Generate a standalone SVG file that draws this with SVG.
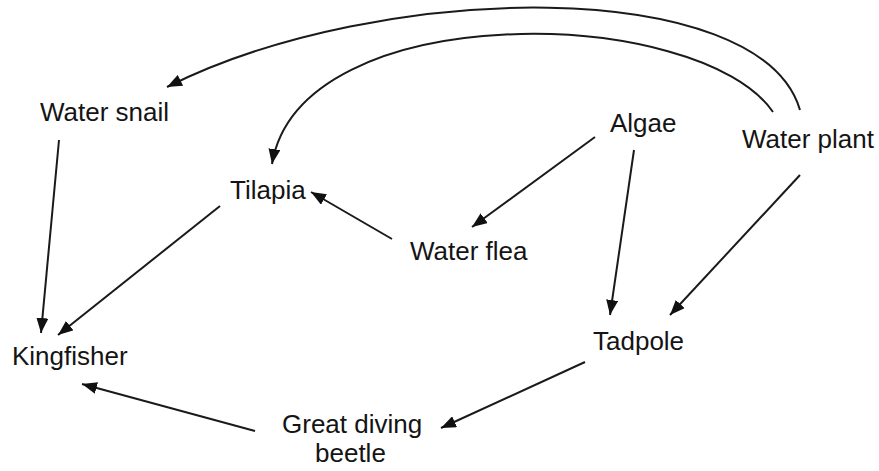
<svg xmlns="http://www.w3.org/2000/svg" width="879" height="471" viewBox="0 0 879 471">
<defs>
<style>
.lbl{font-family:"Liberation Sans",Arial,sans-serif;font-size:26px;fill:#141414}
.c{fill:none;stroke:#1a1a1a;stroke-width:2}
</style>
<marker id="ah" markerUnits="userSpaceOnUse" markerWidth="16" markerHeight="12" refX="15" refY="6" orient="auto">
<path d="M0,0 L15,6 L0,12 z" fill="#111"/>
</marker>
</defs>
<rect width="879" height="471" fill="#fff"/>
<g id="connectors">
<path class="c" marker-end="url(#ah)" d="M800,110 C760,-25 380,-20 167,87"/>
<path class="c" marker-end="url(#ah)" d="M773,112 C700,5 300,-5 272,164"/>
<path class="c" marker-end="url(#ah)" d="M595,137 L472,227"/>
<path class="c" marker-end="url(#ah)" d="M634,150 L610,315"/>
<path class="c" marker-end="url(#ah)" d="M800,175 L670,315"/>
<path class="c" marker-end="url(#ah)" d="M392,239 L311,192"/>
<path class="c" marker-end="url(#ah)" d="M220,206 L58,335"/>
<path class="c" marker-end="url(#ah)" d="M59,140 L41,333"/>
<path class="c" marker-end="url(#ah)" d="M585,362 L441,428"/>
<path class="c" marker-end="url(#ah)" d="M255,431 L82,384"/>
</g>
<g id="water-snail"><text class="lbl" x="40" y="121">Water snail</text></g>
<g id="tilapia"><text class="lbl" x="230" y="199">Tilapia</text></g>
<g id="algae"><text class="lbl" x="610" y="132">Algae</text></g>
<g id="water-plant"><text class="lbl" x="742" y="148">Water plant</text></g>
<g id="water-flea"><text class="lbl" x="410" y="260">Water flea</text></g>
<g id="tadpole"><text class="lbl" x="593" y="350">Tadpole</text></g>
<g id="kingfisher"><text class="lbl" x="12" y="365">Kingfisher</text></g>
<g id="great-diving-beetle"><text class="lbl" x="282" y="433">Great diving</text><text class="lbl" x="315" y="462">beetle</text></g>
</svg>
